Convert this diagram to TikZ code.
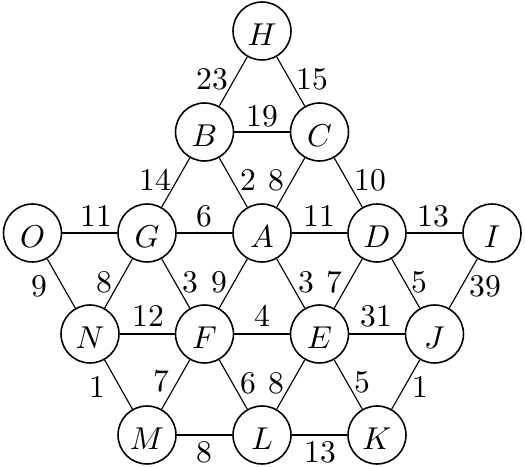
\documentclass[tikz,border=0pt]{standalone}
\begin{document}
\begin{tikzpicture}[x=0.3165pt,y=-0.3165pt,
  vtx/.style={circle,draw,line width=0.5pt,minimum size=18.35pt,inner sep=0pt,
    text height=9.37pt,text depth=0pt,font=\fontsize{10}{12}\selectfont},
  lbl/.style={inner sep=0pt,font=\fontsize{10}{12}\selectfont},
  edge/.style={line width=0.36pt}]
\useasboundingbox (0,0) rectangle (525,467);
% nodes
\node[vtx] (H) at (262,31) {$H$};
\node[vtx] (B) at (204.5,132) {$B$};
\node[vtx] (C) at (319.5,132) {$C$};
\node[vtx] (O) at (32.5,233) {$O$};
\node[vtx] (G) at (147,233) {$G$};
\node[vtx] (A) at (262,233) {$A$};
\node[vtx] (D) at (377,233) {$D$};
\node[vtx] (I) at (492,233) {$I$};
\node[vtx] (N) at (90,334) {$N$};
\node[vtx] (F) at (204.5,334) {$F$};
\node[vtx] (E) at (319.5,334) {$E$};
\node[vtx] (J) at (434.5,334) {$J$};
\node[vtx] (M) at (147,435) {$M$};
\node[vtx] (L) at (262,435) {$L$};
\node[vtx] (K) at (377,435) {$K$};
% edges
\draw[edge] (H) -- (B);
\draw[edge] (H) -- (C);
\draw[edge] (B) -- (C);
\draw[edge] (B) -- (G);
\draw[edge] (B) -- (A);
\draw[edge] (C) -- (A);
\draw[edge] (C) -- (D);
\draw[edge] (O) -- (G);
\draw[edge] (G) -- (A);
\draw[edge] (A) -- (D);
\draw[edge] (D) -- (I);
\draw[edge] (O) -- (N);
\draw[edge] (G) -- (N);
\draw[edge] (G) -- (F);
\draw[edge] (A) -- (F);
\draw[edge] (A) -- (E);
\draw[edge] (D) -- (E);
\draw[edge] (D) -- (J);
\draw[edge] (I) -- (J);
\draw[edge] (N) -- (F);
\draw[edge] (F) -- (E);
\draw[edge] (E) -- (J);
\draw[edge] (N) -- (M);
\draw[edge] (F) -- (M);
\draw[edge] (F) -- (L);
\draw[edge] (E) -- (L);
\draw[edge] (E) -- (K);
\draw[edge] (J) -- (K);
\draw[edge] (M) -- (L);
\draw[edge] (L) -- (K);
% labels
\node[lbl] (wHB) at (212,79) {23};
\node[lbl] (wHC) at (312,79) {15};
\node[lbl] (wBC) at (262,116) {19};
\node[lbl] (wBG) at (155,180) {14};
\node[lbl] (wBA) at (248,180) {2};
\node[lbl] (wCA) at (276,180) {8};
\node[lbl] (wCD) at (370,180) {10};
\node[lbl] (wOG) at (96,216) {11};
\node[lbl] (wGA) at (204,216) {6};
\node[lbl] (wAD) at (319,216) {11};
\node[lbl] (wDI) at (433,216) {13};
\node[lbl] (wON) at (39,286) {9};
\node[lbl] (wGN) at (104,282) {8};
\node[lbl] (wGF) at (190,282) {3};
\node[lbl] (wAF) at (219,282) {9};
\node[lbl] (wAE) at (306,282) {3};
\node[lbl] (wDE) at (334,282) {7};
\node[lbl] (wDJ) at (419,282) {5};
\node[lbl] (wIJ) at (485,286) {39};
\node[lbl] (wNF) at (148,316) {12};
\node[lbl] (wFE) at (262,316) {4};
\node[lbl] (wEJ) at (376,316) {31};
\node[lbl] (wNM) at (97,387) {1};
\node[lbl] (wFM) at (161,381) {7};
\node[lbl] (wFL) at (248,383) {6};
\node[lbl] (wEL) at (276,383) {8};
\node[lbl] (wEK) at (362,382) {5};
\node[lbl] (wJK) at (420,387) {1};
\node[lbl] (wML) at (204,452) {8};
\node[lbl] (wLK) at (320,452) {13};
\end{tikzpicture}
\end{document}
